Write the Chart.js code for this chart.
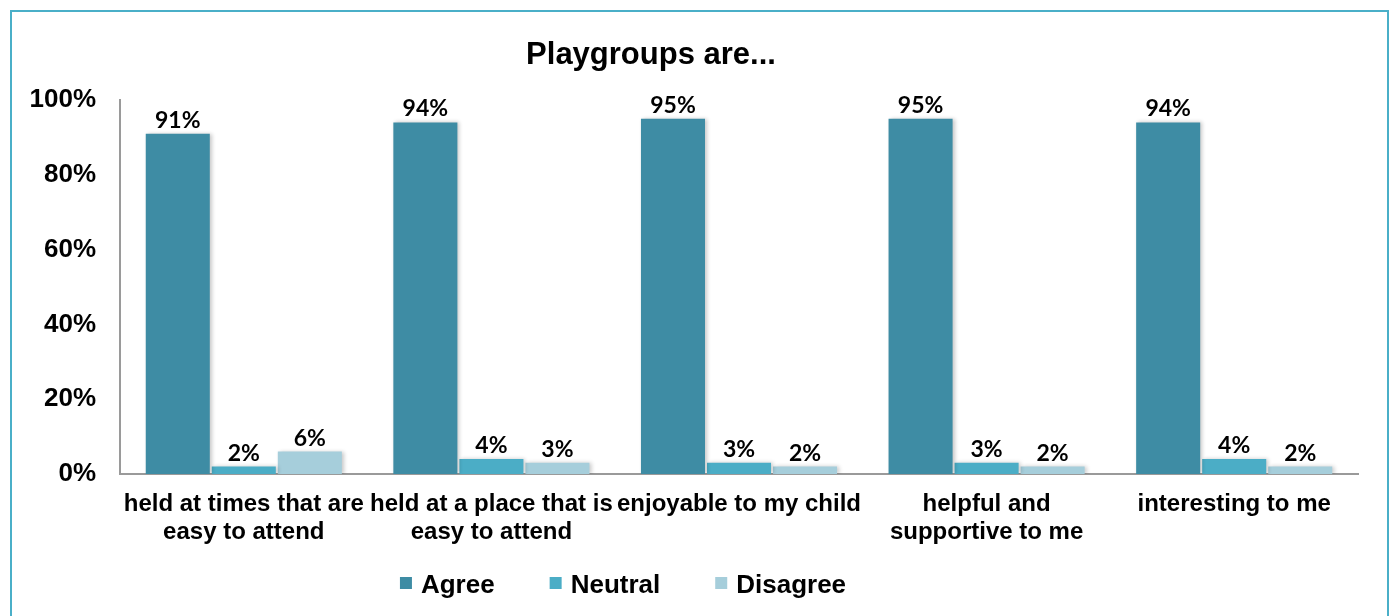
<!DOCTYPE html>
<html>
<head>
<meta charset="utf-8">
<script src="https://cdn.jsdelivr.net/npm/chart.js@4.4.0/dist/chart.umd.min.js"></script>
<style>
  html, body { margin: 0; padding: 0; background: #fff; }
  #wrap { position: relative; width: 1392px; height: 616px; overflow: hidden; }
  #frame { position: absolute; left: 10px; top: 10px; width: 1375px; height: 640px; border: 2px solid #4AAFC8; pointer-events: none; }
</style>
</head>
<body>
<div id="wrap">
  <canvas id="chart" width="1392" height="616"></canvas>
  <div id="frame"></div>
</div>
<script>
// Datos
const categories = [
  ['held at times that are', 'easy to attend'],
  ['held at a place that is', 'easy to attend'],
  ['enjoyable to my child'],
  ['helpful and', 'supportive to me'],
  ['interesting to me']
];
const agree = [91, 94, 95, 95, 94];
const neutral = [2, 4, 3, 3, 4];
const disagree = [6, 3, 2, 2, 2];
const yTicks = [0, 20, 40, 60, 80, 100];
const titleText = 'Playgroups are...';

const colors = ['#3E8CA4', '#4BADC6', '#A6CEDB'];
const arial = '"Liberation Sans", Arial, sans-serif';

// Sombra suave en las barras
const barShadow = {
  id: 'barShadow',
  beforeDatasetsDraw(chart) {
    const ctx = chart.ctx;
    ctx.save();
    ctx.shadowColor = 'rgba(0,0,0,0.22)';
    ctx.shadowBlur = 4;
    ctx.shadowOffsetX = 2;
    ctx.shadowOffsetY = 0;
  },
  afterDatasetsDraw(chart) {
    chart.ctx.restore();
  }
};

// Etiquetas de valores encima de cada barra
const valueLabels = {
  id: 'valueLabels',
  afterDatasetsDraw(chart) {
    const ctx = chart.ctx;
    ctx.save();
    ctx.font = 'bold 23px Lato, "Open Sans", sans-serif';
    ctx.fillStyle = '#000';
    ctx.textAlign = 'center';
    ctx.textBaseline = 'alphabetic';
    chart.data.datasets.forEach((ds, i) => {
      chart.getDatasetMeta(i).data.forEach((bar, j) => {
        ctx.fillText(ds.data[j] + '%', bar.x, bar.y - 6);
      });
    });
    ctx.restore();
  }
};

// Titulo y leyenda dibujados a mano para imitar la posicion de Excel
const titleLegend = {
  id: 'titleLegend',
  afterDraw(chart) {
    const ctx = chart.ctx;
    ctx.save();
    ctx.fillStyle = '#000';
    ctx.font = 'bold 31px ' + arial;
    ctx.textAlign = 'center';
    ctx.textBaseline = 'alphabetic';
    ctx.fillText(titleText, 651, 64);

    ctx.font = 'bold 26px ' + arial;
    ctx.textAlign = 'left';
    const box = 12, gapIn = 9, gapOut = 55;
    const items = chart.data.datasets.map(ds => ({ label: ds.label, color: ds.backgroundColor, w: ctx.measureText(ds.label).width }));
    let total = items.reduce((s, it) => s + box + gapIn + it.w, 0) + gapOut * (items.length - 1);
    let x = 623 - total / 2;
    items.forEach(it => {
      ctx.fillStyle = it.color;
      ctx.fillRect(x, 577, box, box);
      ctx.fillStyle = '#000';
      ctx.fillText(it.label, x + box + gapIn, 593);
      x += box + gapIn + it.w + gapOut;
    });
    ctx.restore();
  }
};

const chart = new Chart(document.getElementById('chart').getContext('2d'), {
  type: 'bar',
  data: {
    labels: categories,
    datasets: [
      { label: 'Agree', data: agree, backgroundColor: colors[0] },
      { label: 'Neutral', data: neutral, backgroundColor: colors[1] },
      { label: 'Disagree', data: disagree, backgroundColor: colors[2] }
    ]
  },
  options: {
    responsive: false,
    animation: false,
    devicePixelRatio: 1,
    categoryPercentage: 0.8,
    barPercentage: 0.97,
    layout: { padding: { top: 100, right: 34, left: 0, bottom: 0 } },
    plugins: {
      legend: { display: false },
      title: { display: false },
      tooltip: { enabled: false }
    },
    scales: {
      x: {
        grid: { display: false, drawTicks: false },
        border: { display: true, color: '#9A9A9A', width: 2 },
        ticks: {
          color: '#000',
          font: { family: arial, size: 24, weight: 'bold', lineHeight: 1.15 },
          padding: 17,
          maxRotation: 0,
          autoSkip: false
        },
        afterFit(scale) { scale.height = 142; }
      },
      y: {
        min: 0,
        max: 100,
        afterBuildTicks(scale) { scale.ticks = yTicks.map(v => ({ value: v })); },
        grid: { display: false, drawTicks: false },
        border: { display: true, color: '#9A9A9A', width: 2 },
        ticks: {
          color: '#000',
          font: { family: arial, size: 26, weight: 'bold' },
          padding: 24,
          callback: v => v + '%'
        },
        afterFit(scale) { scale.width = 120; }
      }
    }
  },
  plugins: [barShadow, valueLabels, titleLegend]
});
</script>
</body>
</html>
